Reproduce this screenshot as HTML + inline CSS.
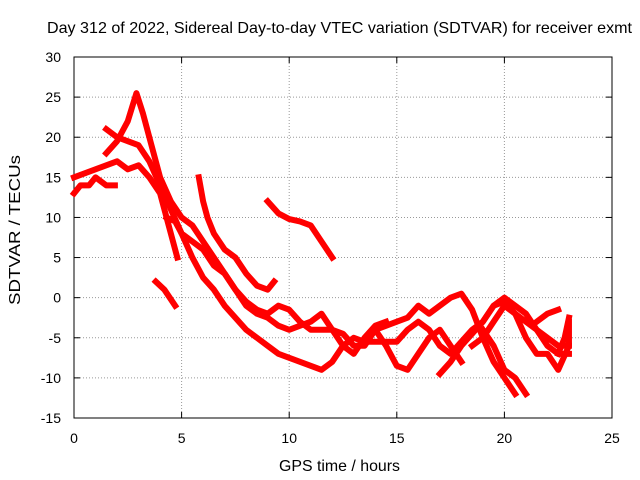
<!DOCTYPE html>
<html><head><meta charset="utf-8"><style>
body{margin:0;background:#fff}
svg{display:block}
text{font-family:"Liberation Sans",sans-serif;font-size:14px;fill:#000}
</style></head><body>
<svg id="chart" width="640" height="480">
<g id="grid"></g>
<rect x="74" y="57" width="538" height="361" fill="none" stroke="#000"/>
<g id="ticks"></g>
<g id="marks"></g>
<text x="47" y="33" textLength="585" lengthAdjust="spacingAndGlyphs" style="font-size:16px">Day 312 of 2022, Sidereal Day-to-day VTEC variation (SDTVAR) for receiver exmt</text>
<text x="279" y="471" textLength="121" lengthAdjust="spacingAndGlyphs" style="font-size:16px">GPS time / hours</text>
<text x="0" y="0" textLength="150" lengthAdjust="spacingAndGlyphs" style="font-size:16px" transform="translate(20 305) rotate(-90)">SDTVAR / TECUs</text>
</svg>
<script>
const xTicks=[0,5,10,15,20,25];
const yTicks=[-15,-10,-5,0,5,10,15,20,25,30];
const track1=[[1.5,18],[2,19.5],[2.5,22],[2.9,25.5],[3.2,23],[3.6,19],[4,15],[4.5,12],[5,10],[5.5,9],[6,7],[6.5,5],[7,3],[7.5,1],[8,-1],[8.5,-2],[9,-2.5],[9.5,-3.5],[10,-4],[11,-3],[11.5,-2],[12,-4],[12.5,-6],[13,-7],[13.5,-5],[14,-3.5],[14.5,-3]];
const track2=[[1.5,21],[2,20],[2.5,19.5],[3,19],[3.5,17],[4,14],[4.5,11],[5,8],[5.5,5],[6,2.5],[6.5,1],[7,-1],[7.5,-2.5],[8,-4],[8.5,-5],[9,-6],[9.5,-7],[10,-7.5],[10.5,-8],[11,-8.5],[11.5,-9],[12,-8],[12.5,-6],[13,-5],[13.5,-5.5],[14,-5.5],[15,-5.5],[15.5,-4],[16,-3],[16.5,-4],[17,-6],[17.5,-7],[18,-5.5],[18.5,-4],[19,-3],[19.5,-1],[20,0],[20.5,-1],[21,-2],[21.5,-4],[22,-6],[22.5,-7],[23,-7]];
const track3=[[0,15],[0.5,15.5],[1,16],[1.5,16.5],[2,17],[2.5,16],[3,16.5],[3.5,15],[4,13],[4.5,8],[4.8,5]];
const track4=[[0,13],[0.3,14],[0.7,14],[1,15],[1.5,14],[1.9,14]];
const track5=[[3.8,2],[4.2,1],[4.7,-1]];
const track6=[[5.8,15],[6,12],[6.2,10],[6.5,8],[7,6],[7.5,5],[8,3],[8.5,1.5],[9,1],[9.3,2]];
const track7=[[9,12],[9.5,10.5],[10,9.8],[10.5,9.5],[11,9],[11.5,7],[12,5]];
const track8=[[4.3,10],[4.7,9.5],[5,8],[5.5,7],[6,6],[6.5,4],[7,3],[7.5,1],[8,-0.5],[8.5,-1.5],[9,-2],[9.5,-1],[10,-1.5],[10.5,-3],[11,-4],[12,-4],[12.5,-4.5],[13,-6],[13.5,-6],[14,-4],[15,-3],[15.5,-2.5],[16,-1],[16.5,-2],[17,-1],[17.5,0],[18,0.5],[18.5,-1.5],[19,-5],[19.5,-8],[20,-10],[20.5,-12]];
const track9=[[14,-4],[14.5,-6],[15,-8.5],[15.5,-9],[16,-7],[16.5,-5],[17,-4],[17.5,-6],[18,-8]];
const track10=[[17,-9.5],[17.5,-8],[18,-6],[18.5,-4.5],[19,-3],[19.5,-1],[20,-0.5],[20.5,-2],[21,-3],[21.5,-4],[22,-5],[22.5,-6],[23,-6]];
const track11=[[18.5,-6],[19,-5],[19.5,-3],[20,-1],[20.5,-2],[21,-5],[21.5,-7],[22,-7],[22.5,-9],[23,-6],[23,-3]];
const track12=[[19,-4],[19.5,-6],[20,-9],[20.5,-10],[21,-12]];
const track13=[[21.5,-3],[22,-2],[22.5,-1.5]];
const track14=[[22.5,-7],[22.8,-5],[23,-2.5]];
const tracks=[track1,track2,track3,track4,track5,track6,track7,track8,track9,track10,track11,track12,track13,track14];
const NS="http://www.w3.org/2000/svg";
const X=v=>74+v*(538/25), Y=v=>418-(v+15)*(361/45);
const grid=document.getElementById('grid'),ticks=document.getElementById('ticks'),marks=document.getElementById('marks');
function mk(tag,attrs,parent){const e=document.createElementNS(NS,tag);for(const k in attrs)e.setAttribute(k,attrs[k]);parent.appendChild(e);return e;}
xTicks.forEach(t=>{
  if(t>0&&t<25){const g=mk('line',{x1:X(t),x2:X(t),y1:57,y2:418,stroke:'#999','stroke-dasharray':'1,2'},grid);
  
  }
  mk('line',{x1:X(t),x2:X(t),y1:418,y2:412,stroke:'#000'},ticks);
  mk('line',{x1:X(t),x2:X(t),y1:57,y2:63,stroke:'#000'},ticks);
  const l=mk('text',{x:X(t),y:443,'text-anchor':'middle'},ticks);l.textContent=t;
  
  
});
yTicks.forEach(t=>{
  if(t>-15&&t<30){const g=mk('line',{x1:74,x2:612,y1:Y(t),y2:Y(t),stroke:'#999','stroke-dasharray':'1,2'},grid);
  
  }
  mk('line',{x1:74,x2:80,y1:Y(t),y2:Y(t),stroke:'#000'},ticks);
  mk('line',{x1:612,x2:606,y1:Y(t),y2:Y(t),stroke:'#000'},ticks);
  const l=mk('text',{x:61,y:Y(t)+5,'text-anchor':'end'},ticks);l.textContent=t;
  
  
});
tracks.forEach((tr,i)=>{
  const p=mk('polyline',{points:tr.map(d=>X(d[0])+','+Y(d[1])).join(' '),fill:'none',stroke:'#f00','stroke-width':6,'stroke-linejoin':'round','stroke-linecap':'square'},marks);
  
  
});
</script>
</body></html>
